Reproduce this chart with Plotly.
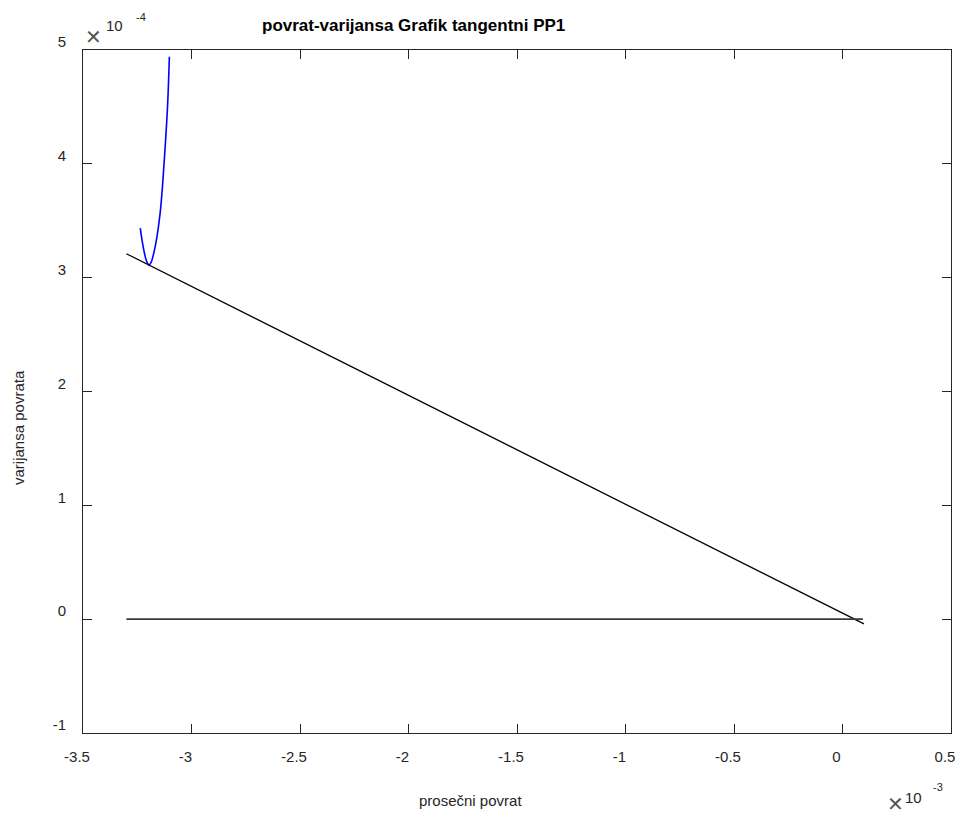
import plotly.graph_objects as go

# Efficient frontier: mean return vs. return variance
frontier_mean = [-3.236e-3, -3.228e-3, -3.218e-3, -3.206e-3, -3.196e-3, -3.186e-3,
                 -3.174e-3, -3.160e-3, -3.145e-3, -3.133e-3, -3.122e-3, -3.110e-3, -3.102e-3]
frontier_var = [3.435e-4, 3.330e-4, 3.225e-4, 3.140e-4, 3.112e-4, 3.135e-4,
                3.215e-4, 3.350e-4, 3.560e-4, 3.820e-4, 4.130e-4, 4.520e-4, 4.940e-4]

# Tangent line through the tangency portfolio
tangent_mean = [-3.30e-3, 0.099e-3]
tangent_var = [3.21e-4, -0.042e-4]

# Zero-variance reference line
zero_mean = [-3.30e-3, 0.094e-3]
zero_var = [0.0, 0.0]

x_ticks = [-3.5e-3, -3e-3, -2.5e-3, -2e-3, -1.5e-3, -1e-3, -0.5e-3, 0.0, 0.5e-3]
x_labels = ["-3.5", "-3", "-2.5", "-2", "-1.5", "-1", "-0.5", "0", "0.5"]
y_ticks = [-1e-4, 0.0, 1e-4, 2e-4, 3e-4, 4e-4, 5e-4]
y_labels = ["-1", "0", "1", "2", "3", "4", "5"]

FONT = "Liberation Sans, Arial, Helvetica, sans-serif"
AX = "#262626"

fig = go.Figure()
fig.add_trace(go.Scatter(x=frontier_mean, y=frontier_var, mode="lines",
                         line=dict(color="#0000ff", width=1.6, shape="spline"),
                         showlegend=False, hoverinfo="skip"))
fig.add_trace(go.Scatter(x=tangent_mean, y=tangent_var, mode="lines",
                         line=dict(color="#000000", width=1.3),
                         showlegend=False, hoverinfo="skip"))
fig.add_trace(go.Scatter(x=zero_mean, y=zero_var, mode="lines",
                         line=dict(color="#3a3a3a", width=1.6),
                         showlegend=False, hoverinfo="skip"))

axis_common = dict(showgrid=False, zeroline=False, showline=True, linecolor=AX,
                   linewidth=1, mirror="ticks", ticks="inside", ticklen=9,
                   tickcolor=AX, tickwidth=1, ticklabeloverflow="allow",
                   automargin=False,
                   tickfont=dict(family=FONT, size=15, color=AX))

fig.update_xaxes(range=[-3.5e-3, 0.5e-3], tickvals=x_ticks, ticktext=x_labels,
                 ticklabelshift=-6, ticklabelstandoff=10, **axis_common)
fig.update_yaxes(range=[-1e-4, 5e-4], tickvals=y_ticks, ticktext=y_labels,
                 ticklabelshift=-8, ticklabelstandoff=13, **axis_common)

L, R, T, B = 83, 951, 50, 733
W, H = 955, 817


def px(xp):
    return (xp - L) / (R - L)


def py(yp):
    return (B - yp) / (B - T)


TIMES = dict(family="DejaVu Sans", size=20, color="#555555")

annotations = [
    dict(text="<b>povrat-varijansa Grafik tangentni PP1</b>", x=px(413), y=py(25),
         font=dict(size=17, color="#000000")),
    dict(text="prosečni povrat", x=px(470), y=py(800), font=dict(size=15, color=AX)),
    dict(text="varijansa povrata", x=px(18), y=py(428), textangle=-90,
         font=dict(size=15, color=AX)),
    # y-axis exponent
    dict(text="✕", x=px(93.5), y=py(37), font=dict(TIMES)),
    dict(text="10", x=px(114.5), y=py(25.5), font=dict(size=15, color=AX)),
    dict(text="-4", x=px(141), y=py(17), font=dict(size=11, color=AX)),
    # x-axis exponent
    dict(text="✕", x=px(895), y=py(804), font=dict(TIMES)),
    dict(text="10", x=px(913), y=py(797), font=dict(size=15, color=AX)),
    dict(text="-3", x=px(938), y=py(787), font=dict(size=11, color=AX)),
]
for a in annotations:
    a.update(xref="paper", yref="paper", showarrow=False,
             xanchor="center", yanchor="middle")
    if "family" not in a["font"]:
        a["font"]["family"] = FONT

fig.update_layout(width=W, height=H, margin=dict(l=L, r=W - R, t=T, b=H - B),
                  plot_bgcolor="white", paper_bgcolor="white",
                  font=dict(family=FONT), annotations=annotations)

fig.write_html("out.html")
